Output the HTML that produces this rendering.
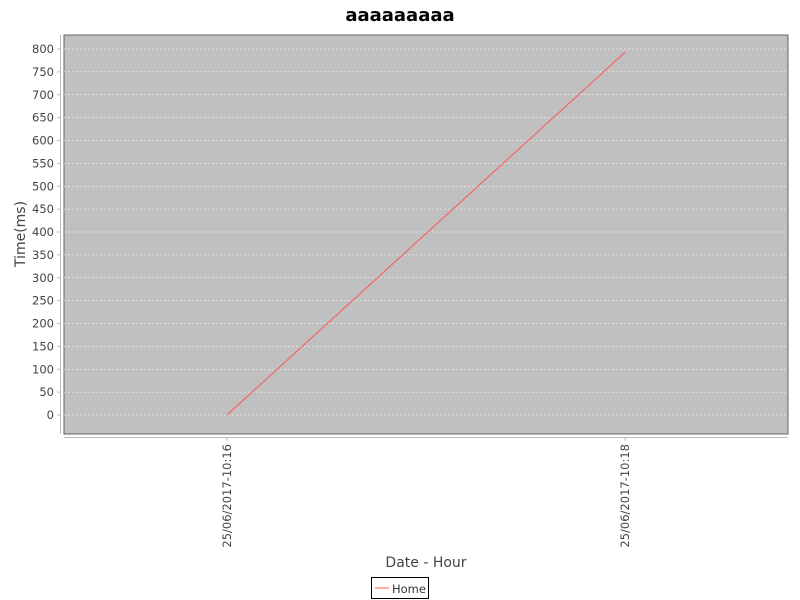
<!DOCTYPE html>
<html><head><meta charset="utf-8"><style>body{margin:0;background:#fff}svg{display:block;font-family:"DejaVu Sans","Liberation Sans",sans-serif}</style></head>
<body>
<svg width="800" height="600">
<rect width="800" height="600" fill="#fff"/>
<text x="400" y="21" text-anchor="middle" font-size="18" font-weight="bold">aaaaaaaaa</text>
<rect x="64" y="35" width="724" height="399" fill="#c0c0c0" stroke="#666"/>
<g id="grid"></g>
<line x1="60.5" y1="35" x2="60.5" y2="434" stroke="#bbb"/>
<line x1="64" y1="437.5" x2="788" y2="437.5" stroke="#bbb"/>
<g id="yticks" font-size="11.5" fill="#444"></g>
<g id="xticks" font-size="11.5" fill="#444"></g>
<polyline id="series" fill="none" stroke="#ff5555" stroke-width="1"/>
<text x="25" y="234" transform="rotate(-90 25 234)" text-anchor="middle" font-size="14" fill="#444">Time(ms)</text>
<text x="426" y="567" text-anchor="middle" font-size="14" fill="#444">Date - Hour</text>
<g>
<rect x="371.5" y="577.5" width="57" height="21" fill="#fff" stroke="#000"/>
<line x1="375" y1="588" x2="389" y2="588" stroke="#ff5555"/>
<text x="392" y="593" font-size="11.5" fill="#333">Home</text>
</g>
</svg>
<script>
const categories = ["25/06/2017-10:16", "25/06/2017-10:18"];
const homeValues = [0, 793];
const yTicks = [0,50,100,150,200,250,300,350,400,450,500,550,600,650,700,750,800];
const NS="http://www.w3.org/2000/svg";
const y = v => 415 - v*0.4575;
const pl=64, pw=724;
const catW = pw*0.7/categories.length, gapW = pw*0.2/Math.max(1,categories.length-1);
const x = i => pl + pw*0.05 + catW*i + gapW*i + catW/2;
const grid=document.getElementById('grid'), yt=document.getElementById('yticks'), xt=document.getElementById('xticks');
yTicks.forEach(v=>{
  const l=document.createElementNS(NS,'line');
  l.setAttribute('x1',64);l.setAttribute('x2',788);l.setAttribute('y1',y(v));l.setAttribute('y2',y(v));
  l.setAttribute('stroke','#fff');l.setAttribute('stroke-dasharray','2,2');l.setAttribute('stroke-width','0.6');
  
  
  grid.appendChild(l);
  const tk=document.createElementNS(NS,'line');
  tk.setAttribute('x1',57);tk.setAttribute('x2',60);tk.setAttribute('y1',y(v));tk.setAttribute('y2',y(v));tk.setAttribute('stroke','#bbb');
  
  
  yt.appendChild(tk);
  const t=document.createElementNS(NS,'text');
  t.setAttribute('x',54);t.setAttribute('y',y(v)+4);t.setAttribute('text-anchor','end');t.textContent=v;
  
  
  yt.appendChild(t);
});
categories.forEach((c,i)=>{
  const tk=document.createElementNS(NS,'line');
  tk.setAttribute('x1',x(i));tk.setAttribute('x2',x(i));tk.setAttribute('y1',438);tk.setAttribute('y2',441);tk.setAttribute('stroke','#bbb');
  
  
  xt.appendChild(tk);
  const t=document.createElementNS(NS,'text');
  const tx=x(i)+4, ty=444;
  t.setAttribute('x',tx);t.setAttribute('y',ty);t.setAttribute('text-anchor','end');
  t.setAttribute('transform','rotate(-90 '+tx+' '+ty+')');t.textContent=c;
  
  
  xt.appendChild(t);
});
document.getElementById('series').setAttribute('points', homeValues.map((v,i)=>x(i)+','+y(v)).join(' '));
</script>
</body></html>
